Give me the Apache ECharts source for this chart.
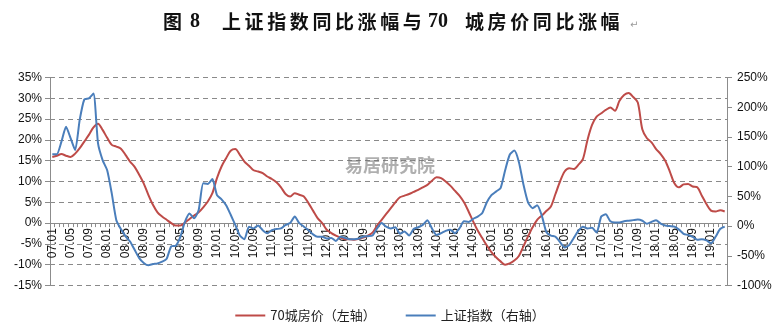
<!DOCTYPE html>
<html>
<head>
<meta charset="utf-8">
<script src="https://cdn.jsdelivr.net/npm/echarts@6/dist/echarts.min.js"></script>
<style>html,body{margin:0;padding:0;background:#fff;}#c{width:780px;height:332px;}</style>
</head>
<body>
<div id="c"></div>
<script>
var categories = [
'07.01','07.02','07.03','07.04','07.05','07.06','07.07','07.08','07.09','07.10','07.11','07.12',
'08.01','08.02','08.03','08.04','08.05','08.06','08.07','08.08','08.09','08.10','08.11','08.12',
'09.01','09.02','09.03','09.04','09.05','09.06','09.07','09.08','09.09','09.10','09.11','09.12',
'10.01','10.02','10.03','10.04','10.05','10.06','10.07','10.08','10.09','10.10','10.11','10.12',
'11.01','11.02','11.03','11.04','11.05','11.06','11.07','11.08','11.09','11.10','11.11','11.12',
'12.01','12.02','12.03','12.04','12.05','12.06','12.07','12.08','12.09','12.10','12.11','12.12',
'13.01','13.02','13.03','13.04','13.05','13.06','13.07','13.08','13.09','13.10','13.11','13.12',
'14.01','14.02','14.03','14.04','14.05','14.06','14.07','14.08','14.09','14.10','14.11','14.12',
'15.01','15.02','15.03','15.04','15.05','15.06','15.07','15.08','15.09','15.10','15.11','15.12',
'16.01','16.02','16.03','16.04','16.05','16.06','16.07','16.08','16.09','16.10','16.11','16.12',
'17.01','17.02','17.03','17.04','17.05','17.06','17.07','17.08','17.09','17.10','17.11','17.12',
'18.01','18.02','18.03','18.04','18.05','18.06','18.07','18.08','18.09','18.10','18.11','18.12',
'19.01','19.02','19.03','19.04'
];

// 70城房价同比（左轴, %）
var housePrice = [
15.9,16.2,16.6,16.2,15.9,16.7,18.0,19.6,21.2,23.0,23.9,22.4,
20.5,18.8,18.4,17.9,16.4,14.8,13.5,11.6,9.5,6.8,4.4,2.6,
1.6,0.8,0.0,-0.6,-0.6,0.1,1.0,1.8,2.6,3.8,5.2,7.2,
10.8,13.6,15.6,17.4,17.8,16.4,14.8,13.8,12.7,12.4,12.0,11.2,
10.6,9.8,8.6,7.0,6.4,7.2,6.8,6.4,4.8,3.0,1.2,0.0,
-1.6,-2.4,-3.0,-3.5,-3.9,-3.9,-4.0,-3.8,-3.5,-3.0,-2.3,-0.6,
0.8,2.2,3.6,5.0,6.2,6.6,7.0,7.5,8.0,8.6,9.2,10.2,
11.0,10.8,10.0,9.0,7.8,6.6,5.0,2.8,0.4,-1.8,-3.6,-5.4,
-7.0,-8.2,-9.2,-10.0,-9.7,-9.0,-7.9,-5.6,-3.2,-1.0,0.8,1.8,
2.9,4.0,7.0,10.0,12.4,13.2,13.0,14.0,15.4,20.0,23.6,25.6,
26.4,27.2,27.8,27.0,29.4,30.8,31.3,30.3,29.0,22.5,20.4,19.4,
17.8,16.6,15.0,12.4,9.6,8.6,9.3,9.4,8.8,8.6,6.6,4.6,
3.0,2.8,3.1,2.8
];

// 上证指数同比（右轴, %）
var shIndex = [
121,121,142,167,148,128,179,213,215,223,139,111,
94,55,10,-5,-17,-26,-40,-54,-62,-66,-64,-63,
-60,-55,-34,-33,-18,7,21,13,27,72,71,79,
52,45,35,19,2,-16,-22,-1,-4,1,-7,-12,
-7,-5,-4,2,5,16,5,-1,-7,-14,-18,-18,
-21,-20,-25,-18,-20,-22,-22,-21,-18,-17,-16,-4,
5,-1,-4,-2,-13,-9,-16,-5,-2,2,10,-4,
-15,-12,-8,-6,-12,-4,8,7,12,16,22,40,
52,58,64,94,120,127,108,70,40,30,35,18,
-10,-16,-18,-27,-36,-32,-20,-8,-1,-4,-3,-11,
16,20,8,6,6,8,9,10,11,9,4,7,
10,4,1,0,-1,-6,-13,-15,-18,-23,-22,-24,
-29,-18,-5,-1
];

var leftTicks = {min: -15, max: 35, interval: 5};
var rightTicks = {min: -100, max: 250, interval: 50};
var seriesNames = ['70城房价（左轴）', '上证指数（右轴）'];

var gridTop = 77.5, gridHeight = 208;
// shift the category axis up from the grid bottom to the left axis' 0% line
var zeroOffset = -gridHeight * (0 - leftTicks.min) / (leftTicks.max - leftTicks.min);

// title pieces
var titleRuns = [
  {t: '图', x: 163, f: 'cjk'},
  {t: '8', x: 190, f: 'num'},
  {t: '上证指数同比涨幅与', x: 222, f: 'cjk'},
  {t: '70', x: 428, f: 'num'},
  {t: '城房价同比涨幅', x: 465, f: 'cjk'}
];
var pitch = 22.6;
var graphics = [];
titleRuns.forEach(function (r) {
  if (r.f === 'cjk') {
    for (var k = 0; k < r.t.length; k++) {
      graphics.push({type: 'text', left: r.x + k * pitch, top: 12,
        style: {text: r.t[k], fontSize: 19, fontWeight: 'bold', fontFamily: 'Noto Sans CJK SC', fill: '#111'}});
    }
  } else {
    graphics.push({type: 'text', left: r.x, top: 12,
      style: {text: r.t, fontSize: 20, fontWeight: 'bold', fontFamily: 'Liberation Serif', fill: '#111'}});
  }
});
graphics.push({type: 'text', left: 630, top: 20, style: {text: '↵', fontSize: 10, fill: '#999', fontFamily: 'DejaVu Sans'}});
graphics.push({type: 'text', left: 345, top: 156, z: 1,
  style: {text: '易居研究院', fontSize: 18, fontWeight: 'bold', fontFamily: 'Noto Sans CJK SC', fill: 'rgba(110,110,110,0.55)'}});

var chart = echarts.init(document.getElementById('c'), null, {renderer: 'canvas'});
chart.setOption({
  animation: false,
  backgroundColor: '#fff',
  graphic: graphics,
  grid: {left: 50, right: 53, top: gridTop, height: gridHeight, outerBoundsMode: 'none'},
  legend: {
    left: 'center', top: 304, itemGap: 30, itemWidth: 30, itemHeight: 2,
    textStyle: {fontSize: 13, color: '#222', fontFamily: 'Noto Sans CJK SC'},
    data: [
      {name: seriesNames[0], icon: 'rect'},
      {name: seriesNames[1], icon: 'rect'}
    ]
  },
  xAxis: {
    type: 'category', data: categories, boundaryGap: true, position: 'bottom', offset: zeroOffset,
    axisLine: {onZero: false, lineStyle: {color: '#8c8c8c', width: 1}},
    axisTick: {show: true, interval: 0, length: 4, lineStyle: {color: '#8c8c8c'}},
    axisLabel: {interval: 3, rotate: 90, margin: 5, fontSize: 12, color: '#111', fontFamily: 'Liberation Sans'},
    splitLine: {show: false}
  },
  yAxis: [
    {
      type: 'value', min: leftTicks.min, max: leftTicks.max, interval: leftTicks.interval, position: 'left',
      axisLine: {show: true, lineStyle: {color: '#8c8c8c'}},
      axisTick: {show: true, length: 5, lineStyle: {color: '#8c8c8c'}},
      axisLabel: {formatter: '{value}%', fontSize: 12, color: '#111', margin: 8, fontFamily: 'Liberation Sans'},
      splitLine: {show: true, lineStyle: {color: '#8a8a8a', type: [5, 4], width: 1}}
    },
    {
      type: 'value', min: rightTicks.min, max: rightTicks.max, interval: rightTicks.interval, position: 'right',
      axisLine: {show: true, lineStyle: {color: '#8c8c8c'}},
      axisTick: {show: true, length: 5, lineStyle: {color: '#8c8c8c'}},
      axisLabel: {formatter: '{value}%', fontSize: 12, color: '#111', margin: 10, fontFamily: 'Liberation Sans'},
      splitLine: {show: false}
    }
  ],
  series: [
    {name: seriesNames[0], type: 'line', yAxisIndex: 0, data: housePrice, showSymbol: false, symbol: 'none',
      smooth: 0.3, lineStyle: {color: '#BE4B48', width: 2}, itemStyle: {color: '#BE4B48'}, z: 3},
    {name: seriesNames[1], type: 'line', yAxisIndex: 1, data: shIndex, showSymbol: false, symbol: 'none',
      smooth: 0.2, lineStyle: {color: '#4A7EBB', width: 2}, itemStyle: {color: '#4A7EBB'}, z: 4}
  ]
});
</script>
</body>
</html>
